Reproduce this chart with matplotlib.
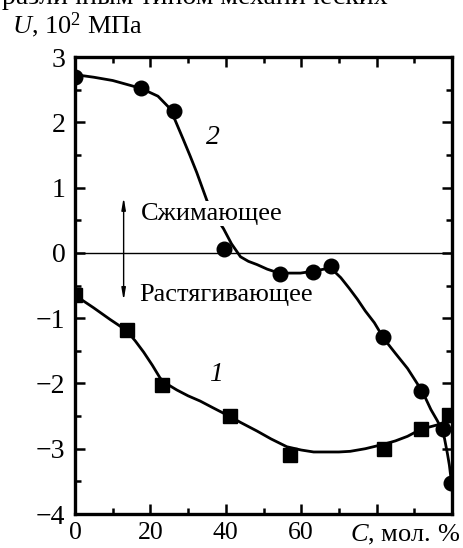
import matplotlib
matplotlib.use("Agg")
import matplotlib.pyplot as plt
from matplotlib.ticker import FixedLocator, FixedFormatter, MultipleLocator

plt.rcParams['font.family'] = ['Liberation Serif', 'DejaVu Serif']
plt.rcParams['mathtext.fontset'] = 'custom'
plt.rcParams['mathtext.rm'] = 'Liberation Serif'
plt.rcParams['mathtext.it'] = 'Liberation Serif:italic'

# ---- data ----
# series 2 (circles)
c2_x = [0, 17.5, 26.3, 39.4, 54.5, 63.2, 67.8, 81.7, 91.8, 97.5, 99.7]
c2_y = [2.70, 2.52, 2.18, 0.06, -0.33, -0.30, -0.20, -1.29, -2.11, -2.70, -3.52]
# series 1 (squares)
c1_x = [0, 13.7, 23.0, 41.0, 57.0, 82.0, 91.9, 99.2]
c1_y = [-0.65, -1.18, -2.02, -2.50, -3.10, -3.00, -2.70, -2.48]

# fitted curves
f2_x = [0, 5, 10, 17.5, 22, 24.7, 26.5, 28.7, 30.5, 32.3, 35, 37, 39.4, 41.5, 43.9, 46,
        48.3, 51, 53.6, 56.5, 59.8, 63.3, 66, 67.8, 70.5, 72.7, 74.9, 77, 79.4, 82, 85,
        88.2, 92.2, 94.4, 96, 97.1, 98, 98.8, 99.3, 99.7, 100]
f2_y = [2.73, 2.69, 2.64, 2.52, 2.40, 2.24, 2.04, 1.74, 1.49, 1.23, 0.80, 0.58, 0.37, 0.14, -0.06, -0.13,
        -0.18, -0.25, -0.30, -0.31, -0.31, -0.28, -0.25, -0.23, -0.38, -0.54, -0.71, -0.89, -1.07, -1.32, -1.54,
        -1.77, -2.13, -2.40, -2.56, -2.68, -2.84, -3.08, -3.25, -3.44, -3.60]
f1_x = [0, 4.9, 9.3, 13.7, 16, 18.2, 20.5, 22.6, 25, 27, 30, 33.2, 36.5, 40.2, 44,
        48.3, 52, 56.2, 60, 63.3, 66.5, 70, 73, 77, 82, 85, 88.2, 91.8, 94.5, 97.1, 100]
f1_y = [-0.65, -0.84, -1.02, -1.19, -1.35, -1.52, -1.72, -1.92, -2.03, -2.10, -2.19, -2.27, -2.37, -2.48, -2.60,
        -2.73, -2.85, -2.97, -3.02, -3.05, -3.05, -3.05, -3.04, -3.00, -2.93, -2.88, -2.81, -2.70, -2.66, -2.62, -2.58]

x_ticks = [0, 20, 40, 60, 80, 100]
x_ticklabels = ['0', '20', '40', '60', '', '']
y_ticks = [-4, -3, -2, -1, 0, 1, 2, 3]
y_ticklabels = ['\u22124', '\u22123', '\u22122', '\u22121', '0', '1', '2', '3']

fig = plt.figure(figsize=(4.63, 5.48), dpi=100)
ax = fig.add_axes([75 / 463, 34 / 548, 377 / 463, 457 / 548])

ax.plot(f2_x, f2_y, color='black', lw=2.0, zorder=3)
ax.plot(f1_x, f1_y, color='black', lw=2.0, zorder=3)
ax.plot(c2_x, c2_y, 'o', color='black', ms=10.5, zorder=4)
ax.plot(c1_x, c1_y, 's', color='black', ms=10.5, zorder=4)
ax.axhline(0, color='black', lw=1.0, zorder=2)

ax.set_xlim(0, 100)
ax.set_ylim(-4.0, 3.0)

ax.xaxis.set_major_locator(FixedLocator(x_ticks))
ax.xaxis.set_major_formatter(FixedFormatter(x_ticklabels))
ax.xaxis.set_minor_locator(MultipleLocator(10))
ax.yaxis.set_major_locator(FixedLocator(y_ticks))
ax.yaxis.set_major_formatter(FixedFormatter(y_ticklabels))
ax.yaxis.set_minor_locator(MultipleLocator(0.5))

ax.tick_params(which='both', direction='in', top=True, right=True, width=1.8)
ax.tick_params(which='major', length=7)
ax.tick_params(which='minor', length=4)
ax.tick_params(axis='y', which='major', labelsize=20, pad=7)
ax.tick_params(axis='x', which='major', labelsize=18.5, pad=5.5)
for s in ax.spines.values():
    s.set_linewidth(2.4)

# annotations
ax.text(36.7, 1.76, '2', fontsize=20, style='italic', ha='center', va='center')
ax.text(37.5, -1.86, '1', fontsize=20, style='italic', ha='center', va='center')
ax.annotate('', xy=(12.9, 0.85), xytext=(12.9, -0.73),
            arrowprops=dict(arrowstyle='<|-|>,head_length=0.7,head_width=0.12', lw=1.0,
                            color='black', shrinkA=0, shrinkB=0), zorder=5)
ax.text(17.6, 0.60, 'Сжимающее', fontsize=19, ha='left', va='center', zorder=3.5,
        bbox=dict(boxstyle='square,pad=0.05', fc='white', ec='none'))
ax.text(17.0, -0.64, 'Растягивающее', fontsize=19, ha='left', va='center', zorder=3.5,
        bbox=dict(boxstyle='square,pad=0.05', fc='white', ec='none'))

fig.text(12 / 463, 1 - 25 / 548, r'$U$, 10$^2$ МПа', fontsize=19, ha='left', va='center')
fig.text(460 / 463, 1 - 541 / 548, r'$C$, мол. %', fontsize=19, ha='right', va='baseline')
fig.text(2 / 463, 1 - 4 / 548, 'различным типом механических', fontsize=20, ha='left', va='baseline')

fig.savefig('out.png', dpi=100)
